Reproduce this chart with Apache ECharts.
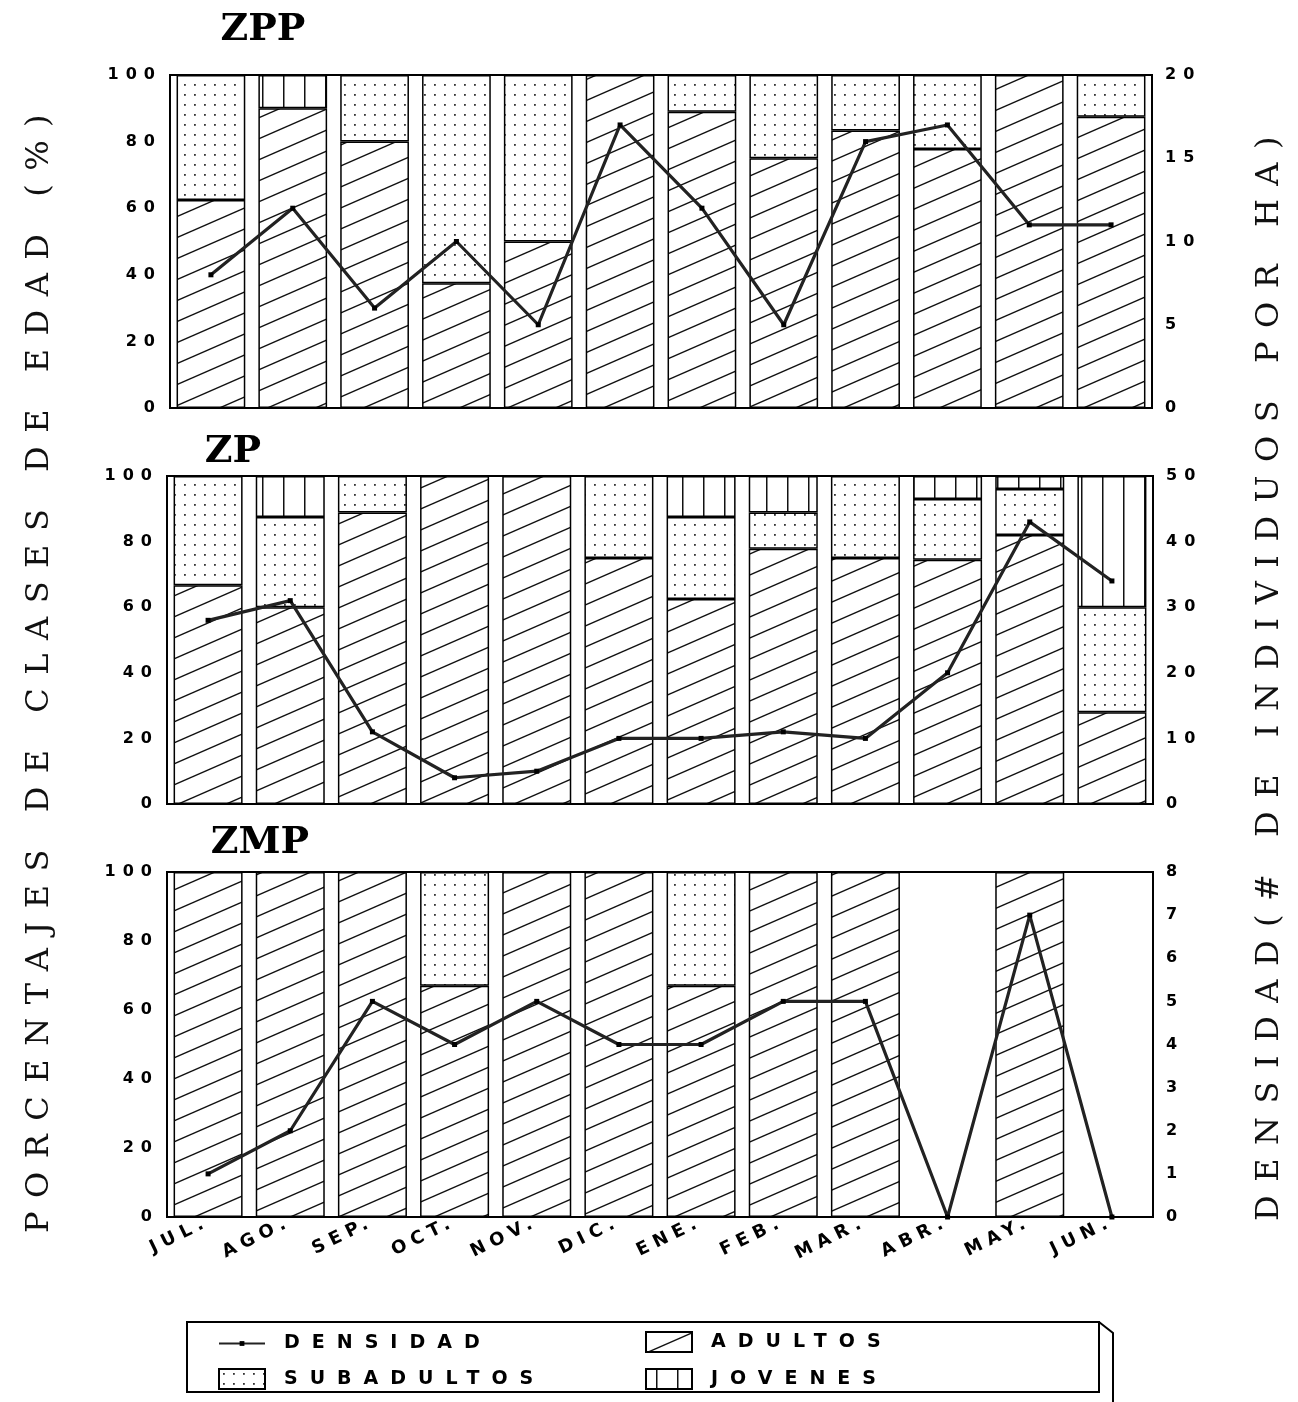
<!DOCTYPE html>
<html>
<head>
<meta charset="utf-8">
<script src="https://cdn.jsdelivr.net/npm/echarts@6/dist/echarts.min.js"></script>
<style>
html, body { margin: 0; padding: 0; background: #fff; }
#main { width: 1298px; height: 1402px; }
</style>
</head>
<body>
<div id="main"></div>
<script>
// ---------------- DATA ----------------
const months = ['JUL.', 'AGO.', 'SEP.', 'OCT.', 'NOV.', 'DIC.', 'ENE.', 'FEB.', 'MAR.', 'ABR.', 'MAY.', 'JUN.'];
const panelNames = ['ZPP', 'ZP', 'ZMP'];

// ZPP
const zppAdultos    = [62.5, 90, 80, 37.5, 50, 100, 89, 75, 83.3, 77.8, 100, 87.5];
const zppSubadultos = [37.5, 0, 20, 62.5, 50, 0, 11, 25, 16.7, 22.2, 0, 12.5];
const zppJovenes    = [0, 10, 0, 0, 0, 0, 0, 0, 0, 0, 0, 0];
const zppDensidad   = [8, 12, 6, 10, 5, 17, 12, 5, 16, 17, 11, 11];

// ZP
const zpAdultos    = [66.7, 60, 88.9, 100, 100, 75, 62.5, 77.8, 75, 74.5, 82, 28];
const zpSubadultos = [33.3, 27.5, 11.1, 0, 0, 25, 25, 11.1, 25, 18.5, 14, 32];
const zpJovenes    = [0, 12.5, 0, 0, 0, 0, 12.5, 11.1, 0, 7, 4, 40];
const zpDensidad   = [28, 31, 11, 4, 5, 10, 10, 11, 10, 20, 43, 34];

// ZMP
const zmpAdultos    = [100, 100, 100, 67, 100, 100, 67, 100, 100, 0, 100, 0];
const zmpSubadultos = [0, 0, 0, 33, 0, 0, 33, 0, 0, 0, 0, 0];
const zmpJovenes    = [0, 0, 0, 0, 0, 0, 0, 0, 0, 0, 0, 0];
const zmpDensidad   = [1, 2, 5, 4, 5, 4, 4, 5, 5, 0, 7, 0];

// axis ranges (tick labels)
const pctTicks = { min: 0, max: 100, interval: 20 };
const densTicks = [
  { min: 0, max: 20, interval: 5 },
  { min: 0, max: 50, interval: 10 },
  { min: 0, max: 8, interval: 1 }
];

const leftTitle = 'PORCENTAJES DE CLASES DE EDAD (%)';
const rightTitle = 'DENSIDAD(# DE INDIVIDUOS POR HA)';

// ---------------- letter spacing for the extended lettering of the original ----------------
(function () {
  function spacingFor(font) {
    const m = /(\d+(?:\.\d+)?)px/.exec(font);
    if (!m) return null;
    const size = +m[1];
    const serif = /Serif/.test(font);
    const bold = /bold|700/.test(font);
    if (serif && !bold && size === 32) return '13.5px';
    if (!serif && bold && /DejaVu Sans/.test(font)) {
      if (size === 16) return '7px';
      if (size === 18) return '6px';
      if (size === 19) return '12px';
    }
    return null;
  }
  const P = CanvasRenderingContext2D.prototype;
  ['fillText', 'strokeText'].forEach(function (fn) {
    const orig = P[fn];
    P[fn] = function () {
      const sp = spacingFor(this.font);
      if (sp && 'letterSpacing' in this) {
        const prev = this.letterSpacing;
        this.letterSpacing = sp;
        const r = orig.apply(this, arguments);
        this.letterSpacing = prev;
        return r;
      }
      return orig.apply(this, arguments);
    };
  });
})();

// ---------------- patterns ----------------
function makeHatch() {
  const W = 48, H = 21;
  const c = document.createElement('canvas');
  c.width = W; c.height = H;
  const ctx = c.getContext('2d');
  ctx.fillStyle = '#fff'; ctx.fillRect(0, 0, W, H);
  ctx.strokeStyle = '#111'; ctx.lineWidth = 1.4;
  for (let k = -1; k <= 1; k++) {
    ctx.beginPath();
    ctx.moveTo(0, H + k * H);
    ctx.lineTo(W, k * H);
    ctx.stroke();
  }
  return c;
}
function makeDots() {
  const c = document.createElement('canvas');
  c.width = 10; c.height = 10;
  const ctx = c.getContext('2d');
  ctx.fillStyle = '#fff'; ctx.fillRect(0, 0, 10, 10);
  ctx.fillStyle = '#333'; ctx.fillRect(4, 4, 1.8, 1.8);
  return c;
}
function makeVLines() {
  const c = document.createElement('canvas');
  c.width = 21; c.height = 4;
  const ctx = c.getContext('2d');
  ctx.fillStyle = '#fff'; ctx.fillRect(0, 0, 21, 4);
  ctx.fillStyle = '#111'; ctx.fillRect(10, 0, 1.5, 4);
  return c;
}
const hatchFill = { image: makeHatch(), repeat: 'repeat' };
const dotFill = { image: makeDots(), repeat: 'repeat' };
const vlineFill = { image: makeVLines(), repeat: 'repeat' };

// ---------------- build option ----------------
const panels = [
  { ad: zppAdultos, sub: zppSubadultos, jov: zppJovenes, dens: zppDensidad },
  { ad: zpAdultos, sub: zpSubadultos, jov: zpJovenes, dens: zpDensidad },
  { ad: zmpAdultos, sub: zmpSubadultos, jov: zmpJovenes, dens: zmpDensidad }
];
const gridPos = [
  { left: 170, top: 75, width: 982, height: 333 },
  { left: 167, top: 476, width: 986, height: 328 },
  { left: 167, top: 872, width: 986, height: 345 }
];
const titlePos = [[263, 30], [233, 452], [260, 843]];

const tickFont = { fontFamily: 'DejaVu Sans', fontWeight: 'bold', fontSize: 16, color: '#000' };
const nz = arr => arr.map(v => (v === 0 ? null : v));

const grid = [], xAxis = [], yAxis = [], series = [];
panels.forEach(function (p, i) {
  grid.push(Object.assign({
    show: true, borderColor: '#000', borderWidth: 2, backgroundColor: 'transparent',
    containLabel: false, outerBoundsMode: 'none'
  }, gridPos[i]));
  xAxis.push({
    gridIndex: i, type: 'category', data: months,
    axisLine: { show: false }, axisTick: { show: false }, splitLine: { show: false },
    axisLabel: {
      show: i === 2, interval: 0, rotate: 26, margin: 4,
      fontFamily: 'DejaVu Sans', fontWeight: 'bold', fontSize: 18, color: '#000'
    }
  });
  yAxis.push({
    gridIndex: i, type: 'value', position: 'left',
    min: pctTicks.min, max: pctTicks.max, interval: pctTicks.interval,
    axisLine: { show: false }, axisTick: { show: false }, splitLine: { show: false },
    axisLabel: Object.assign({ margin: 8 }, tickFont)
  });
  yAxis.push({
    gridIndex: i, type: 'value', position: 'right',
    min: densTicks[i].min, max: densTicks[i].max, interval: densTicks[i].interval,
    axisLine: { show: false }, axisTick: { show: false }, splitLine: { show: false },
    axisLabel: Object.assign({ margin: 13 }, tickFont)
  });
  const barCommon = {
    type: 'bar', xAxisIndex: i, yAxisIndex: 2 * i, stack: 'stk' + i,
    barWidth: '84%', animation: false, z: 2
  };
  series.push(Object.assign({}, barCommon, {
    name: 'ADULTOS', data: nz(p.ad),
    itemStyle: { color: hatchFill, borderColor: '#000', borderWidth: 1.5 }
  }));
  series.push(Object.assign({}, barCommon, {
    name: 'SUBADULTOS', data: nz(p.sub),
    itemStyle: { color: dotFill, borderColor: '#000', borderWidth: 1.5 }
  }));
  series.push(Object.assign({}, barCommon, {
    name: 'JOVENES', data: nz(p.jov),
    itemStyle: { color: vlineFill, borderColor: '#000', borderWidth: 1.5 }
  }));
  series.push({
    name: 'DENSIDAD', type: 'line', xAxisIndex: i, yAxisIndex: 2 * i + 1,
    data: p.dens, symbol: 'rect', symbolSize: 5, showSymbol: true,
    lineStyle: { color: '#222', width: 3.2 }, itemStyle: { color: '#000' },
    z: 5, animation: false
  });
});

const legendText = { fontFamily: 'DejaVu Sans', fontWeight: 'bold', fontSize: 19, color: '#000', padding: [0, 0, 0, 14] };
function oneLegend(name, left, centerY, h, icon) {
  const item = { name: name };
  if (icon) item.icon = icon;
  return {
    orient: 'vertical', left: left, top: centerY - h / 2, itemWidth: 46, itemHeight: h,
    data: [item], textStyle: legendText, selectedMode: false, padding: 0
  };
}
const legend = [
  oneLegend('DENSIDAD', 218, 1337, 6),
  oneLegend('SUBADULTOS', 218, 1378, 20, 'rect'),
  oneLegend('ADULTOS', 645, 1341, 20, 'rect'),
  oneLegend('JOVENES', 645, 1378, 20, 'rect')
];

const graphic = [];
panelNames.forEach(function (t, i) {
  graphic.push({
    type: 'text', x: titlePos[i][0], y: titlePos[i][1],
    style: { text: t, align: 'center', verticalAlign: 'middle', font: 'bold 38px "DejaVu Serif"', fill: '#000' }
  });
});
graphic.push({
  type: 'text', x: 40, y: 667, rotation: Math.PI / 2,
  style: { text: leftTitle, align: 'center', verticalAlign: 'middle', font: '32px "DejaVu Serif"', fill: '#111' }
});
graphic.push({
  type: 'text', x: 1270, y: 672, rotation: Math.PI / 2,
  style: { text: rightTitle, align: 'center', verticalAlign: 'middle', font: '32px "DejaVu Serif"', fill: '#111' }
});
graphic.push({
  type: 'rect', shape: { x: 187, y: 1322, width: 912, height: 70 },
  style: { fill: 'none', stroke: '#000', lineWidth: 2 }, z: -1
});
graphic.push({
  type: 'polyline', shape: { points: [[1099, 1322], [1113, 1333], [1113, 1402]] },
  style: { fill: 'none', stroke: '#000', lineWidth: 2 }
});

const chart = echarts.init(document.getElementById('main'), null, { renderer: 'canvas' });
chart.setOption({
  backgroundColor: '#fff',
  animation: false,
  grid: grid, xAxis: xAxis, yAxis: yAxis, series: series,
  legend: legend, graphic: graphic
});
</script>
</body>
</html>
